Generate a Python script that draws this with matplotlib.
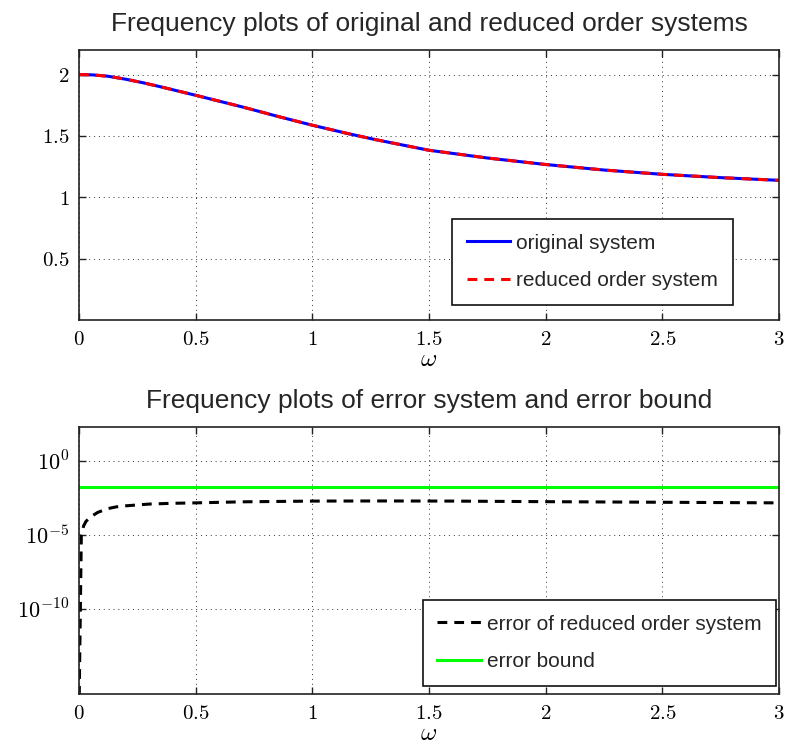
import matplotlib
matplotlib.use('Agg')
import matplotlib.pyplot as plt
import numpy as np

matplotlib.rcParams['mathtext.fontset'] = 'cm'
matplotlib.rcParams['font.family'] = ['Liberation Sans', 'DejaVu Sans']

# --- data ---
omega_top = [0.0, 0.06, 0.125, 0.2, 0.27, 0.35, 0.5, 0.7, 0.85, 1.0, 1.15,
             1.27, 1.5, 1.75, 2.0, 2.25, 2.5, 2.75, 3.0]
h_orig = [2.0, 1.997, 1.986, 1.962, 1.935, 1.90, 1.831, 1.736, 1.66, 1.587,
          1.52, 1.47, 1.383, 1.32, 1.267, 1.222, 1.187, 1.16, 1.138]
h_red = [2.0, 1.997, 1.986, 1.962, 1.935, 1.90, 1.831, 1.736, 1.66, 1.587,
         1.52, 1.47, 1.383, 1.32, 1.267, 1.222, 1.187, 1.16, 1.138]

omega_err = [0.0, 0.01, 0.02, 0.03, 0.05, 0.08, 0.12, 0.16, 0.2, 0.3, 0.4,
             0.5, 0.7, 1.0, 1.3, 1.6, 2.0, 2.5, 3.0]
err = [1e-17, 1e-5, 4e-5, 8e-5, 1.6e-4, 3.2e-4, 5.6e-4, 7.6e-4, 8.9e-4,
       1.17e-3, 1.32e-3, 1.41e-3, 1.66e-3, 1.86e-3, 1.9e-3, 1.86e-3,
       1.7e-3, 1.55e-3, 1.41e-3]
bound = 0.016

xticks = [0, 0.5, 1, 1.5, 2, 2.5, 3]
xtick_labels = ['$0$', '$0.5$', '$1$', '$1.5$', '$2$', '$2.5$', '$3$']

W, H = 787, 746
fig = plt.figure(figsize=(W / 100, H / 100), dpi=100)

text_col = '#262626'
tick_size = 15
title_size = 19
legend_size = 15
dash = (0, (3.2, 2.3))


def style(ax, xlabelpad):
    ax.set_xlim(0, 3)
    ax.set_xticks(xticks)
    ax.set_xticklabels(xtick_labels, fontsize=tick_size)
    ax.tick_params(direction='in', top=True, right=True, length=5,
                   width=1, color='#222222', pad=7)
    ax.grid(True, linestyle=(0, (1, 4)), color='#333333', linewidth=0.7)
    for s in ax.spines.values():
        s.set_linewidth(1.2)
        s.set_color('#222222')
    ax.set_xlabel(r'$\omega$', fontsize=18, labelpad=xlabelpad)


def legend_style(leg):
    leg.get_frame().set_linewidth(1.2)
    for t in leg.get_texts():
        t.set_color(text_col)


leg_kw = dict(loc='lower right', borderaxespad=0, fontsize=legend_size,
              fancybox=False, framealpha=1, edgecolor='#111111',
              handlelength=2.08, handletextpad=0.3, labelspacing=0.9,
              borderpad=0.7)

# top panel
ax1 = fig.add_axes([79 / W, (H - 320) / H, 700 / W, 270 / H])
ax1.plot(omega_top, h_orig, color='#0000ff', lw=2.2, label='original system')
ax1.plot(omega_top, h_red, color='#ff0000', lw=2.2, linestyle=dash,
         label='reduced order system')
ax1.set_ylim(0, 2.2)
ax1.set_yticks([0.5, 1, 1.5, 2])
ax1.set_yticklabels(['$0.5$', '$1$', '$1.5$', '$2$'], fontsize=tick_size)
style(ax1, -1)
ax1.set_title('Frequency plots of original and reduced order systems',
              fontsize=title_size, color=text_col, pad=14)
legend_style(ax1.legend(bbox_to_anchor=(0.934, 0.056), **leg_kw))

# bottom panel
ax2 = fig.add_axes([79 / W, (H - 694) / H, 700 / W, 267 / H])
ax2.semilogy(omega_err, err, color='black', lw=2.2, linestyle=dash,
             label='error of reduced order system')
ax2.semilogy([omega_err[0], omega_err[-1]], [bound, bound], color='#00ff00',
             lw=2.2, label='error bound')
ax2.set_ylim(10 ** -15.75, 10 ** 2.27)
ax2.set_yticks([1e-10, 1e-5, 1e0])
ax2.set_yticklabels(['$10^{-10}$', '$10^{-5}$', '$10^{0}$'], fontsize=16)
ax2.yaxis.set_minor_locator(matplotlib.ticker.NullLocator())
style(ax2, -1.5)
ax2.set_title('Frequency plots of error system and error bound',
              fontsize=title_size, color=text_col, pad=14)
legend_style(ax2.legend(bbox_to_anchor=(0.996, 0.03), **leg_kw))

fig.savefig('out.png', dpi=100)
